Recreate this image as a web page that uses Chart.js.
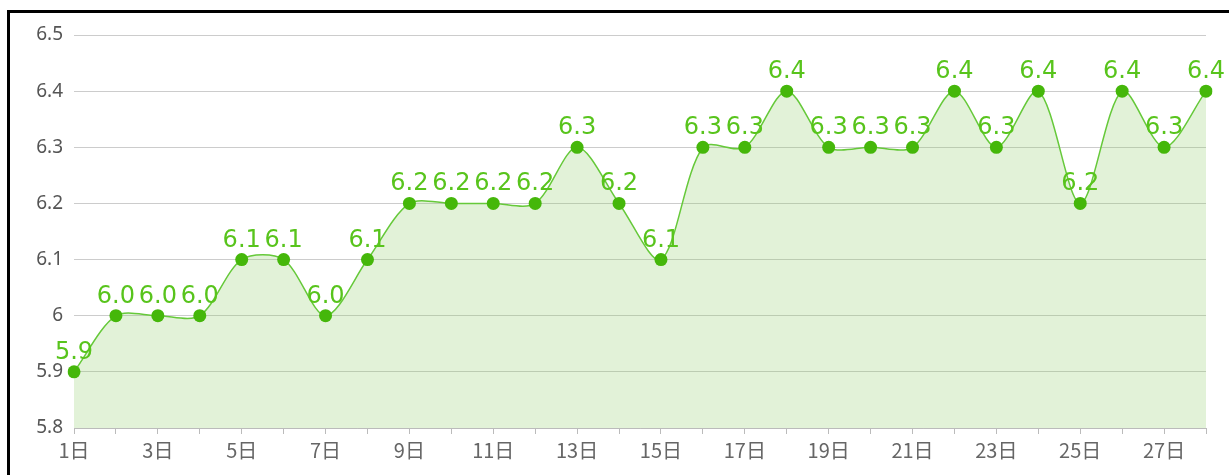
<!DOCTYPE html>
<html>
<head>
<meta charset="utf-8">
<script src="https://cdn.jsdelivr.net/npm/chart.js@4"></script>
<style>
  html,body{margin:0;padding:0;background:#fff;width:1229px;height:475px;overflow:hidden;}
  #frame{position:absolute;left:7px;top:10px;width:1240px;height:480px;border-top:3px solid #000;border-left:3px solid #000;}
  #wrap{position:absolute;left:0;top:0;width:1229px;height:475px;}
</style>
</head>
<body>
<div id="frame"></div>
<div id="wrap"><canvas id="c" width="1229" height="475"></canvas></div>
<script>
const categories = ["1日","2日","3日","4日","5日","6日","7日","8日","9日","10日","11日","12日","13日","14日","15日","16日","17日","18日","19日","20日","21日","22日","23日","24日","25日","26日","27日","28日"];
const values = [5.9,6.0,6.0,6.0,6.1,6.1,6.0,6.1,6.2,6.2,6.2,6.2,6.3,6.2,6.1,6.3,6.3,6.4,6.3,6.3,6.3,6.4,6.3,6.4,6.2,6.4,6.3,6.4];
const yMin = 5.8, yMax = 6.5, yStep = 0.1;

const labelPlugin = {
  id: 'pointLabels',
  afterDatasetsDraw(chart) {
    const ctx = chart.ctx;
    const meta = chart.getDatasetMeta(0);
    ctx.save();
    ctx.font = '24px "DejaVu Sans"';
    ctx.fillStyle = '#58c41c';
    ctx.textAlign = 'center';
    ctx.textBaseline = 'alphabetic';
    meta.data.forEach((pt, i) => {
      ctx.fillText(values[i].toFixed(1), pt.x, pt.y - 13);
    });
    ctx.restore();
  }
};

new Chart(document.getElementById('c'), {
  type: 'line',
  data: {
    labels: categories,
    datasets: [{
      data: values,
      borderColor: '#66c93a',
      borderWidth: 1.5,
      backgroundColor: 'rgba(140,205,100,0.25)',
      fill: 'origin',
      tension: 0.3,
      pointRadius: 6.5,
      pointHoverRadius: 6.5,
      pointBackgroundColor: '#45b70a',
      pointBorderColor: '#45b70a',
      pointBorderWidth: 0
    }]
  },
  options: {
    responsive: false,
    animation: false,
    events: [],
    layout: { padding: { left: 0, right: 23, top: 35, bottom: 0 } },
    plugins: { legend: { display: false }, tooltip: { enabled: false } },
    scales: {
      x: {
        offset: false,
        grid: { display: true, drawOnChartArea: false, drawTicks: true, tickLength: 6, color: '#bbb' },
        border: { display: true, color: '#bbb', width: 1 },
        ticks: {
          autoSkip: false,
          maxRotation: 0,
          padding: 4,
          color: '#666',
          font: { family: '"Noto Sans CJK SC"', size: 20 },
          callback: function(v, i) { return i % 2 === 0 ? categories[i] : ''; }
        },
        afterFit(s) { s.height = 47; }
      },
      y: {
        min: yMin, max: yMax,
        grid: { color: '#cccccc', lineWidth: 1, drawTicks: false },
        border: { display: false },
        ticks: {
          stepSize: yStep,
          padding: 11,
          color: '#555',
          font: { family: '"Noto Sans"', size: 19 },
          callback: function(v) { const r = Math.round(v*10)/10; return r === 6 ? '6' : r.toFixed(1); }
        },
        afterFit(s) { s.width = 74; }
      }
    }
  },
  plugins: [labelPlugin]
});
</script>
</body>
</html>
